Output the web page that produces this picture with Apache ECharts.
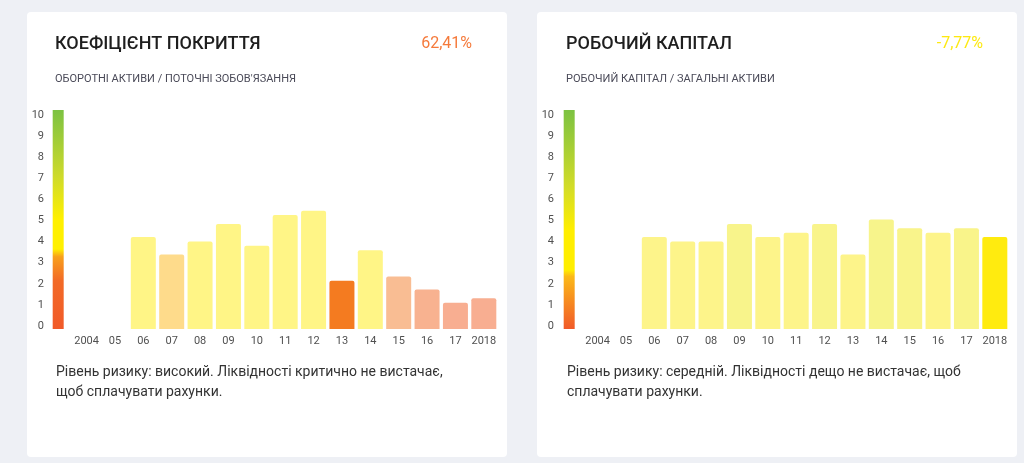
<!DOCTYPE html>
<html>
<head>
<meta charset="utf-8">
<script src="https://cdn.jsdelivr.net/npm/echarts@6/dist/echarts.min.js"></script>
<style>
html,body{margin:0;padding:0;background:#eef0f5;}
#c{width:1024px;height:463px;}
</style>
</head>
<body>
<div id="c"></div>
<script>
// ---- data ----
const categories = ['2004','05','06','07','08','09','10','11','12','13','14','15','16','17','2018'];
const coverageValues = [null, null, 4.2, 3.4, 4.0, 4.8, 3.8, 5.2, 5.4, 2.2, 3.6, 2.4, 1.8, 1.2, 1.4];
const workingCapitalValues = [null, null, 4.2, 4.0, 4.0, 4.8, 4.2, 4.4, 4.8, 3.4, 5.0, 4.6, 4.4, 4.6, 4.2];
const scaleMin = 0, scaleMax = 10, scaleStep = 1;
const leftTitle = 'КОЕФІЦІЄНТ ПОКРИТТЯ', leftValue = '62,41%', leftSub = 'ОБОРОТНІ АКТИВИ / ПОТОЧНІ ЗОБОВ\'ЯЗАННЯ';
const leftText = 'Рівень ризику: високий. Ліквідності критично не вистачає,\nщоб сплачувати рахунки.';
const rightTitle = 'РОБОЧИЙ КАПІТАЛ', rightValue = '-7,77%', rightSub = 'РОБОЧИЙ КАПІТАЛ / ЗАГАЛЬНІ АКТИВИ';
const rightText = 'Рівень ризику: середній. Ліквідності дещо не вистачає, щоб\nсплачувати рахунки.';

// ---- styles ----
const coverageColors = [null, null, '#fff586', '#fedb8b', '#fff586', '#fff586', '#fff586', '#fff586', '#fff586', '#f47b20', '#fff586', '#f9bd93', '#f8b290', '#f8ae91', '#f8ae91'];
const workingColors = [null, null, '#fdf48a', '#fdf48a', '#fdf48a', '#f8f48b', '#fdf48a', '#fdf48a', '#f9f48b', '#fdf48a', '#f7f48b', '#f9f48b', '#fdf48a', '#f9f48a', '#ffeb0f'];
const leftGradient = [
  {offset:0, color:'#7cc242'}, {offset:0.3, color:'#cdda2b'}, {offset:0.5, color:'#fff000'},
  {offset:0.635, color:'#fff000'}, {offset:0.67, color:'#f8a01c'}, {offset:0.78, color:'#f26a27'}, {offset:1, color:'#f15a29'}];
const rightGradient = [
  {offset:0, color:'#7cc242'}, {offset:0.35, color:'#d2dc28'}, {offset:0.55, color:'#ffee00'},
  {offset:0.73, color:'#ffee00'}, {offset:0.76, color:'#fbb918'}, {offset:0.86, color:'#f7901f'}, {offset:1, color:'#f15a29'}];

const FONT = 'Roboto, "Noto Sans", sans-serif';
const cats = [''].concat(categories);

function barData(vals, cols){
  return ['-'].concat(vals.map((v,i)=> v==null ? '-' : {value:v, itemStyle:{color:cols[i]}}));
}
function scaleBar(){
  return [scaleMax].concat(categories.map(()=> '-'));
}

const chart = echarts.init(document.getElementById('c'), null, {renderer:'canvas'});
const mkXAxis = (grid, show) => ({
  type:'category', gridIndex:grid, data:cats, show:show,
  axisLine:{show:false}, axisTick:{show:false},
  axisLabel:{show:show, color:'#505050', fontSize:11, fontFamily:FONT, margin:7, interval:0}
});
const mkYAxis = (grid, show) => ({
  type:'value', gridIndex:grid, min:scaleMin, max:scaleMax, interval:scaleStep, show:show,
  axisLine:{show:false}, axisTick:{show:false}, splitLine:{show:false},
  axisLabel:{show:show, color:'#505050', fontSize:11, fontFamily:FONT, margin:4}
});
const T = (text, pos, size, color, weight, extra) => Object.assign({
  text:text, padding:0,
  textStyle:Object.assign({fontSize:size, fontWeight:weight, color:color, fontFamily:FONT}, extra||{})
}, pos);

const option = {
  backgroundColor:'#eef0f5',
  animation:false,
  graphic:[
    {type:'rect', shape:{x:27, y:12, width:480, height:445, r:4}, style:{fill:'#ffffff'}, z:-10},
    {type:'rect', shape:{x:537, y:12, width:480, height:445, r:4}, style:{fill:'#ffffff'}, z:-10}
  ],
  title:[
    T(leftTitle, {left:55, top:35}, 18, '#1e1e1e', 500),
    T(leftValue, {right:552, top:36}, 16, '#f57a3b', 'normal'),
    T(leftSub, {left:55, top:74}, 11, '#4a4a58', 'normal'),
    T(leftText, {left:56, top:362}, 14, '#333333', 'normal', {lineHeight:20}),
    T(rightTitle, {left:566, top:35}, 18, '#1e1e1e', 500),
    T(rightValue, {right:41, top:36}, 16, '#fde910', 'normal'),
    T(rightSub, {left:566, top:74}, 11, '#4a4a58', 'normal'),
    T(rightText, {left:567, top:362}, 14, '#333333', 'normal', {lineHeight:20})
  ],
  grid:[
    {left:44, top:110, width:454, height:219},
    {left:48, top:115, width:1, height:211},
    {left:555, top:110, width:454, height:219},
    {left:558, top:115, width:1, height:211}
  ],
  xAxis:[mkXAxis(0,true), mkXAxis(0,false), mkXAxis(1,false), mkXAxis(2,true), mkXAxis(2,false), mkXAxis(3,false)],
  yAxis:[mkYAxis(0,false), mkYAxis(1,true), mkYAxis(2,false), mkYAxis(3,true)],
  series:[
    {type:'bar', xAxisIndex:1, yAxisIndex:0, barWidth:11, data:scaleBar(),
     itemStyle:{color:new echarts.graphic.LinearGradient(0,0,0,1,leftGradient)}},
    {type:'bar', xAxisIndex:0, yAxisIndex:0, barWidth:25, data:barData(coverageValues, coverageColors),
     itemStyle:{borderRadius:[2,2,0,0]}},
    {type:'bar', xAxisIndex:4, yAxisIndex:2, barWidth:11, data:scaleBar(),
     itemStyle:{color:new echarts.graphic.LinearGradient(0,0,0,1,rightGradient)}},
    {type:'bar', xAxisIndex:3, yAxisIndex:2, barWidth:25, data:barData(workingCapitalValues, workingColors),
     itemStyle:{borderRadius:[2,2,0,0]}}
  ]
};
chart.setOption(option);
</script>
</body>
</html>
